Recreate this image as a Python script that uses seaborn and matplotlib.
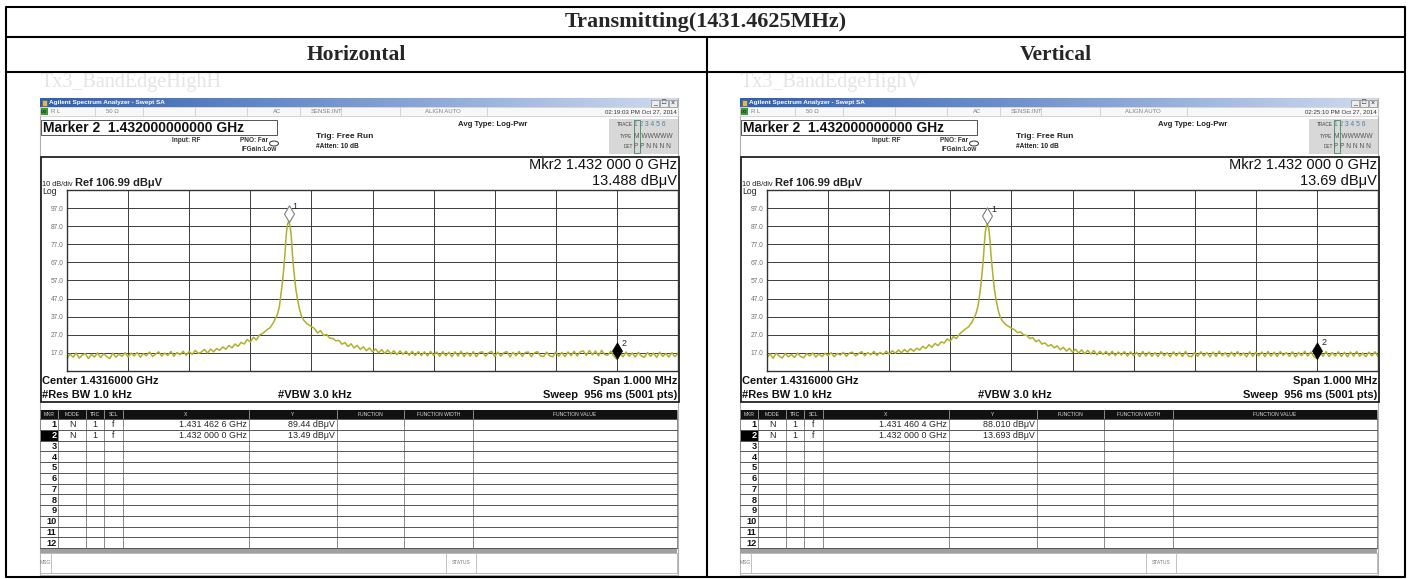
import numpy as np
import pandas as pd
import matplotlib
matplotlib.use("Agg")
import matplotlib.pyplot as plt
import seaborn as sns
from matplotlib.patches import Rectangle, Ellipse
from matplotlib.path import Path
from matplotlib.colors import LinearSegmentedColormap

sns.set_style("white")
plt.rcParams['font.family'] = ['Liberation Sans', 'DejaVu Sans']

W, H = 1411, 579

# ---- trace readings (dBuV), off the two analyzer screenshots ----
left_freq = np.round(1431.100 + 0.005 * np.arange(64), 3)     # 1431.100 .. 1431.415
right_freq = np.round(1431.505 + 0.005 * np.arange(120), 3)   # 1431.505 .. 1432.100
peak_offsets_khz = [-42, -36, -30, -25, -21, -18, -15, -12, -10, -8, -6, -4.5, -3, -1.5, 0,
                    1.5, 3, 4.5, 6, 8, 10, 12, 15, 18, 21, 25, 30, 36, 42]

h_peak_freq = 1431.4626
h_left = [13.8, 16.4, 14.6, 16.9, 14.1, 15.8, 16.6, 13.9, 16.2, 14.7, 17.0, 14.4, 16.5, 15.0, 13.9, 16.8, 14.6, 16.3, 15.1, 17.1,
          14.8, 16.9, 15.3, 17.2, 14.6, 16.6, 15.4, 17.5, 15.0, 16.3, 17.6, 15.2, 16.9, 15.6, 17.8, 15.1, 17.2, 16.0, 17.9, 15.7,
          17.8, 16.1, 18.4, 16.7, 17.5, 18.9, 16.9, 19.1, 17.6, 19.4,
          18.4, 20.3, 19.0, 21.1, 19.8, 21.9, 20.6, 22.8,
          21.9, 24.4, 23.0, 25.6, 24.2, 26.9]
h_peak = [27.8, 29.6, 31.0, 33.6, 36.4, 38.5, 42.5, 50.5, 56.0, 63.0, 71.0, 79.0, 85.0, 88.3, 89.44,
          88.6, 86.0, 81.0, 73.0, 65.0, 58.0, 52.0, 46.0, 41.0, 37.5, 35.0, 33.2, 31.8, 30.6]
h_right = [30.4, 28.0, 29.3, 26.6, 27.2, 25.1, 25.0, 23.7, 23.9, 21.8,
           22.7, 20.5, 22.0, 19.7, 21.2, 18.9, 20.3, 18.2, 19.7, 17.6,
           19.2, 17.0, 18.8, 16.7, 18.6, 16.4, 18.2, 16.0, 18.1, 16.2, 17.9, 15.7, 17.8, 15.6, 17.7, 15.5, 17.6, 15.3, 17.8, 15.6,
           17.5, 15.1, 17.7, 15.4, 17.4, 14.9, 17.6, 15.3, 17.9, 15.0, 17.3, 15.2, 17.7, 14.9, 17.2, 17.6, 15.1, 17.1, 17.8, 15.0,
           17.4, 15.2, 17.1, 17.7, 14.8, 17.3, 15.4, 17.8, 15.1, 17.2, 17.5, 14.9, 17.0, 17.7, 15.3, 15.0, 17.4, 15.4, 14.8, 17.6,
           15.2, 17.3, 14.9, 17.5, 15.5, 17.9, 15.3, 17.6, 18.1, 15.6, 18.3, 15.9, 18.0, 15.4, 18.4, 16.1, 15.7, 17.9, 15.2, 13.5,
           17.1, 14.8, 17.5, 15.1, 17.0, 14.7, 17.3, 15.3, 14.6, 17.2, 15.1, 16.9, 14.5, 17.4, 15.0, 16.7, 14.7, 17.1, 14.9, 16.8]

v_peak_freq = 1431.4604
v_left = [14.3, 16.5, 14.0, 16.8, 15.2, 14.2, 16.7, 14.8, 16.1, 14.5, 16.9, 15.0, 14.3, 16.6, 15.3, 17.0, 14.7, 16.4, 14.9, 16.8,
          15.5, 17.1, 14.9, 16.7, 15.8, 17.3, 15.1, 16.9, 17.4, 15.3, 16.6, 17.7, 15.4, 17.2, 16.0, 17.8, 15.6, 17.3, 16.1, 17.9,
          16.3, 18.2, 16.8, 18.6, 17.0, 18.9, 17.4, 19.3, 17.9, 19.6,
          18.6, 20.6, 19.4, 21.5, 20.1, 22.2, 21.0, 23.1,
          22.4, 24.7, 23.5, 26.0, 24.9, 27.3]
v_peak = [28.4, 30.1, 31.5, 34.0, 36.8, 39.0, 43.0, 50.0, 55.5, 62.5, 70.5, 78.0, 84.0, 87.0, 88.01,
          87.2, 84.6, 79.5, 72.0, 64.5, 57.5, 51.5, 45.5, 40.5, 37.0, 34.6, 32.8, 31.4, 30.2]
v_right = [29.8, 28.2, 28.6, 26.9, 26.7, 24.9, 25.4, 23.2, 24.1, 21.9,
           22.5, 20.7, 21.6, 19.8, 20.9, 18.7, 20.1, 18.0, 19.5, 17.4,
           19.0, 16.9, 18.7, 16.5, 18.4, 16.3, 18.3, 15.9, 17.9, 16.1, 17.8, 15.6, 17.9, 15.5, 17.5, 15.8, 17.7, 15.2, 17.6, 15.4,
           17.3, 15.0, 17.8, 15.2, 17.5, 15.1, 17.2, 14.9, 17.7, 15.4, 17.1, 14.8, 17.6, 15.3, 17.4, 15.0, 17.8, 15.2, 14.9, 17.3,
           15.1, 17.6, 15.3, 17.2, 14.8, 17.5, 15.0, 17.9, 15.4, 17.1, 14.9, 17.4, 15.2, 17.7, 15.5, 17.0, 14.8, 17.6, 15.1, 17.3,
           15.3, 17.5, 14.9, 17.8, 15.2, 17.4, 15.0, 17.7, 15.6, 17.2, 15.1, 17.6, 14.8, 17.3, 15.4, 17.9, 15.2, 17.5, 15.0, 13.7,
           17.4, 15.1, 17.7, 14.9, 17.2, 15.3, 17.6, 15.0, 17.3, 14.8, 17.5, 15.2, 17.8, 15.1, 17.0, 14.9, 17.4, 15.3, 17.6, 15.0]

# marker table readings
h_markers = [("1.431 462 6 GHz", "89.44 dBμV", 1431.4626, 89.44), ("1.432 000 0 GHz", "13.49 dBμV", 1432.0, 13.49)]
v_markers = [("1.431 460 4 GHz", "88.010 dBμV", 1431.4604, 88.01), ("1.432 000 0 GHz", "13.693 dBμV", 1432.0, 13.693)]

ref_level = 106.99
y_labels = ["97.0", "87.0", "77.0", "67.0", "57.0", "47.0", "37.0", "27.0", "17.0"]
col_names = ["MKR", "MODE", "TRC", "SCL", "X", "Y", "FUNCTION", "FUNCTION WIDTH", "FUNCTION VALUE"]

TRACE = "#b0b02c"


def trace_frame(peak_freq, left, peak, right):
    f = np.concatenate([left_freq, peak_freq + np.array(peak_offsets_khz) / 1000.0, right_freq])
    return pd.DataFrame({"freq": f, "level": np.array(left + peak + right)})


fig = plt.figure(figsize=(W / 100, H / 100), dpi=100)
bg = fig.add_axes([0, 0, 1, 1])
bg.set_xlim(0, W)
bg.set_ylim(H, 0)
bg.axis("off")

# ---- outer report table ----
serif = ['Liberation Serif', 'DejaVu Serif']
for y in [7, 37, 72, 577]:
    bg.plot([6, 1405], [y, y], color="black", lw=1.5, solid_capstyle="butt")
for x in [6, 1405]:
    bg.plot([x, x], [7, 577], color="black", lw=1.5)
bg.plot([707, 707], [37, 577], color="black", lw=1.5)
bg.text(706, 22.5, "Transmitting(1431.4625MHz)", family=serif, weight="bold", fontsize=16, ha="center", va="center")
bg.text(356, 55, "Horizontal", family=serif, weight="bold", fontsize=15.5, ha="center", va="center")
bg.text(1056, 55, "Vertical", family=serif, weight="bold", fontsize=15.5, ha="center", va="center")

title_cmap = LinearSegmentedColormap.from_list("tb", ["#2f5fb0", "#7a9ad0", "#cfdbef"])
grad = np.linspace(0, 1, 256).reshape(1, -1)


def draw_screen(ox, tag, clock, mkr_readout, df, markers):
    def X(x):
        return x + ox

    bg.text(X(41), 83, tag, family=serif, fontsize=14.5, color="#e4e4e4", va="center")

    # window frame
    bg.add_patch(Rectangle((X(40), 98), 638, 477, fc="white", ec="#b0b0b0", lw=0.8))
    bg.imshow(grad, cmap=title_cmap, extent=[X(40), X(678), 107, 98], aspect="auto", zorder=2)
    bg.add_patch(Rectangle((X(41.5), 99.5), 5, 6, fc="#d9b860", ec="#555555", lw=0.4, zorder=3))
    bg.text(X(49), 102.8, "Agilent Spectrum Analyzer - Swept SA", color="white", fontsize=4.6,
            weight="bold", va="center", zorder=3)
    for i, sym in enumerate(["_", "□", "×"]):
        bx = X(651 + 9 * i)
        bg.add_patch(Rectangle((bx, 99.5), 8, 7, fc="#ececec", ec="#777777", lw=0.4, zorder=3))
        bg.text(bx + 4, 103, sym, fontsize=5, ha="center", va="center", zorder=4, color="#222222")

    # status row
    bg.add_patch(Rectangle((X(40), 107), 638, 9, fc="#f7f7f7", ec="#c8c8c8", lw=0.5))
    bg.add_patch(Rectangle((X(41), 108), 6.5, 7, fc="#3a9a3a", ec="none"))
    bg.text(X(44.2), 111.6, "LXI", fontsize=2.8, weight="bold", ha="center", va="center")
    for sx in [95, 143, 195, 247, 300, 341, 400, 487]:
        bg.plot([X(sx), X(sx)], [107, 116], color="#c4c4c4", lw=0.5)
    for tx, s in [(51, "R L"), (106, "50 Ω"), (311, "SENSE:INT"), (425, "ALIGN AUTO")]:
        bg.text(X(tx), 111.7, s, fontsize=4.3, color="#808080", va="center")
    bg.text(X(277), 111.7, "AC", fontsize=4.3, color="#808080", va="center", ha="center")
    bg.text(X(677), 111.7, clock, fontsize=4.4, color="#333333", va="center", ha="right")

    # settings area
    bg.add_patch(Rectangle((X(41), 120), 236, 15, fc="white", ec="#555555", lw=0.7))
    bg.text(X(43), 128, "Marker 2  1.432000000000 GHz", fontsize=10, weight="bold", va="center", color="#111111")
    bg.text(X(172), 140.5, "Input: RF", fontsize=4.7, weight="bold", va="center", color="#333333")
    bg.text(X(240), 140.5, "PNO: Far", fontsize=4.7, weight="bold", va="center", color="#333333")
    bg.text(X(242), 149.5, "IFGain:Low", fontsize=4.7, weight="bold", va="center", color="#333333")
    bg.add_patch(Ellipse((X(274), 143.5), 9, 5, fc="none", ec="#333333", lw=0.7))
    bg.text(X(316), 137, "Trig: Free Run", fontsize=6, weight="bold", va="center", color="#222222")
    bg.text(X(316), 146.5, "#Atten: 10 dB", fontsize=4.8, weight="bold", va="center", color="#222222")
    bg.text(X(458), 124.5, "Avg Type: Log-Pwr", fontsize=5.6, weight="bold", va="center", color="#222222")

    bg.add_patch(Rectangle((X(609), 119), 69, 35, fc="#d8d8d8", ec="none"))
    bg.add_patch(Rectangle((X(633.5), 120), 6, 33, fc="none", ec="#3c8c5a", lw=0.6))
    for ty, lab, val, vc in [(125, "TRACE", "1 2 3 4 5 6", "#4d7fa0"),
                             (136, "TYPE", "M WWWWW", "#555555"),
                             (146.5, "DET", "P P N N N N", "#555555")]:
        bg.text(X(632.5), ty, lab, fontsize=3.4, ha="right", va="center", color="#444444")
        bg.text(X(634.5), ty, val, fontsize=4.8, ha="left", va="center", color=vc)

    # graticule panel
    bg.add_patch(Rectangle((X(41), 157), 638, 245, fc="white", ec="#222222", lw=1.3))
    bg.text(X(677), 165, "Mkr2 1.432 000 0 GHz", fontsize=10.5, ha="right", va="center", color="#111111")
    bg.text(X(677), 180.5, mkr_readout, fontsize=10.5, ha="right", va="center", color="#111111")
    bg.text(X(42), 184, "10 dB/div", fontsize=5.3, va="center", color="#222222")
    bg.text(X(75), 183.5, "Ref 106.99 dBμV", fontsize=8, weight="bold", va="center", color="#222222")
    bg.text(X(42), 191.5, "Log", fontsize=6.2, va="center", color="#222222")

    bg.text(X(42), 381, "Center 1.4316000 GHz", fontsize=8, weight="bold", va="center", color="#111111")
    bg.text(X(42), 395, "#Res BW 1.0 kHz", fontsize=8, weight="bold", va="center", color="#111111")
    bg.text(X(315), 395, "#VBW 3.0 kHz", fontsize=8, weight="bold", ha="center", va="center", color="#111111")
    bg.text(X(677), 381, "Span 1.000 MHz", fontsize=8, weight="bold", ha="right", va="center", color="#111111")
    bg.text(X(677), 395, "Sweep  956 ms (5001 pts)", fontsize=8, weight="bold", ha="right", va="center", color="#111111")

    ax = fig.add_axes([X(67) / W, 1 - 371 / H, 611 / W, 181 / H])
    sns.lineplot(data=df, x="freq", y="level", ax=ax, color=TRACE, lw=1.1, estimator=None, sort=False)
    ax.set_xlim(1431.1, 1432.1)
    ax.set_ylim(ref_level - 100, ref_level)
    ax.set_xticks(np.linspace(1431.1, 1432.1, 11))
    ax.set_yticks([ref_level - 10 * (k + 1) for k in range(9)])
    ax.set_yticklabels(y_labels)
    ax.set_xticklabels([])
    ax.set_xlabel("")
    ax.set_ylabel("")
    ax.grid(True, color="#3c3c3c", lw=0.7)
    ax.tick_params(length=0, labelsize=4.8, labelcolor="#707070", pad=2.5)
    for sp in ax.spines.values():
        sp.set_color("#333333")
        sp.set_linewidth(1.0)

    tip = Path([(0, 0), (0.3, 0.5), (0, 1), (-0.3, 0.5), (0, 0)],
               [Path.MOVETO, Path.LINETO, Path.LINETO, Path.LINETO, Path.CLOSEPOLY])
    (_, _, f1, l1), (_, _, f2, l2) = markers
    ax.plot([f1], [l1], marker=tip, ms=24, mfc="white", mec="#808080", mew=0.8, ls="none", zorder=5, clip_on=False)
    ax.plot([f2], [l2], marker=tip, ms=24, mfc="black", mec="black", mew=0.5, ls="none", zorder=5, clip_on=False)
    ax.annotate("1", (f1, l1), xytext=(4, 15), textcoords="offset pixels", fontsize=6.5, va="center")
    ax.annotate("2", (f2, l2), xytext=(5, 16), textcoords="offset pixels", fontsize=6.5, va="center")

    # marker table
    cols = [40, 58, 86, 104, 123, 249, 337, 404, 473, 677]
    bg.add_patch(Rectangle((X(40), 410), 637, 9, fc="#111111", ec="none"))
    for i, name in enumerate(col_names):
        bg.text(X((cols[i] + cols[i + 1]) / 2), 414.6, name, fontsize=3.6, color="#d8d8d8",
                ha="center", va="center")
    row_h = 10.75
    top = 419
    for cx in cols:
        bg.plot([X(cx), X(cx)], [410, 548], color="#8a8a8a", lw=0.7)
    for r in range(13):
        y = top + r * row_h
        bg.plot([X(40), X(677)], [y, y], color="#555555", lw=0.7)
    for r in range(12):
        yc = top + (r + 0.5) * row_h
        if r == 1:
            bg.add_patch(Rectangle((X(40.5), top + r * row_h), 17.5, row_h, fc="black", ec="none"))
        bg.text(X(56.5), yc + 0.5, str(r + 1), fontsize=6.6, weight="bold", ha="right", va="center",
                color="white" if r == 1 else "#111111")
    for r, (xs, ys, _, _) in enumerate(markers):
        yc = top + (r + 0.5) * row_h + 0.5
        bg.text(X(72), yc, "N", fontsize=6.4, ha="center", va="center")
        bg.text(X(95), yc, "1", fontsize=6.4, ha="center", va="center")
        bg.text(X(113.5), yc, "f", fontsize=6.4, ha="center", va="center")
        bg.text(X(247), yc, xs, fontsize=6.4, ha="right", va="center")
        bg.text(X(335), yc, ys, fontsize=6.4, ha="right", va="center")
    bg.add_patch(Rectangle((X(40), 548), 637, 5, fc="#a0a0a0", ec="none"))
    bg.add_patch(Rectangle((X(40), 553), 637, 20, fc="white", ec="#b0b0b0", lw=0.6))
    for sx in [51, 446, 476]:
        bg.plot([X(sx), X(sx)], [553, 573], color="#b8b8b8", lw=0.6)
    bg.text(X(45.5), 563, "MSG", fontsize=3.6, ha="center", va="center", color="#777777")
    bg.text(X(461), 563, "STATUS", fontsize=3.6, ha="center", va="center", color="#777777")


draw_screen(0, "Tx3_BandEdgeHighH", "02:19:03 PM Oct 27, 2014", "13.488 dBμV",
            trace_frame(h_peak_freq, h_left, h_peak, h_right), h_markers)
draw_screen(700, "Tx3_BandEdgeHighV", "02:25:10 PM Oct 27, 2014", "13.69 dBμV",
            trace_frame(v_peak_freq, v_left, v_peak, v_right), v_markers)

bg.set_xlim(0, W)
bg.set_ylim(H, 0)
fig.savefig("out.png", dpi=100)
